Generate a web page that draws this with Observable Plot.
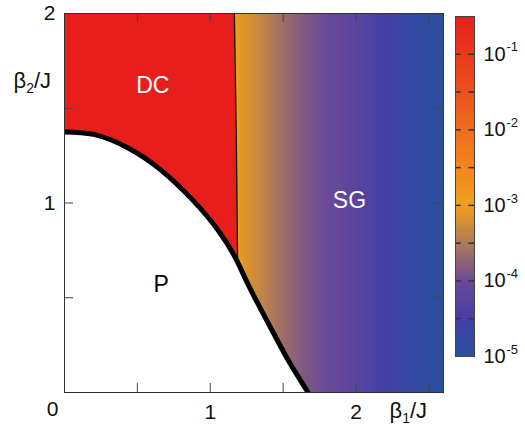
<!DOCTYPE html>
<html><head><meta charset="utf-8">
<script src="https://cdn.jsdelivr.net/npm/d3@7"></script>
<script src="https://cdn.jsdelivr.net/npm/@observablehq/plot@0.6"></script>
<style>
body{margin:0;background:#fff;}
#wrap{position:relative;width:525px;height:439px;font-family:"Liberation Sans",Arial,sans-serif;}
#wrap svg{position:absolute;top:0;}
</style></head><body><div id="wrap"></div>
<script>
// P / ordered boundary (thick line)
const pX = [0, 0.2, 0.43, 0.66, 0.88, 1.05, 1.17, 1.25, 1.35, 1.45, 1.55, 1.671];
const pY = [1.375, 1.362, 1.293, 1.175, 1.015, 0.86, 0.714, 0.585, 0.435, 0.29, 0.15, 0];
// DC / SG boundary (thin line)
const dcX = [1.187, 1.178, 1.165];
const dcY = [0.70, 1.35, 2.0];
// SG order parameter, log10, versus beta1/J
const sgX = [1.0, 1.16, 1.30, 1.45, 1.65, 1.90, 2.15, 2.40, 2.60, 2.80];
const sgLog = [-3.0, -3.0, -3.25, -3.55, -3.85, -4.1, -4.45, -4.8, -4.95, -5.0];
// colour bar
const cbStops = [-5, -4.5, -4, -3.5, -3, -2.5, -2, -1.5, -1, -0.5];
const cbColors = ["#2850a0", "#463fa6", "#6a4a98", "#b07a5a", "#f0a01a", "#f2861e", "#ef6c1e", "#ec521e", "#e93a1e", "#e8201c"];
const cbLabels = [-1, -2, -3, -4, -5];
const cbDashes = [-1, -1.5, -2, -2.5, -3, -3.5, -4, -4.5];
// axes
const xTicks = [0.5, 1, 1.5, 2, 2.5];
const yTicks = [0.5, 1, 1.5];
const xLabels = [1, 2];
const yLabels = [1, 2];
// region labels
const regionNames = ["DC", "SG", "P"];
const regionX = [0.606, 1.955, 0.664];
const regionY = [1.62, 1.013, 0.57];
const regionColor = ["white", "white", "black"];

const colorScale = {type: "linear", domain: cbStops, range: cbColors, interpolate: "rgb"};
const sgGrid = sgX.flatMap((x, i) => [{x, y: -0.5, v: sgLog[i]}, {x, y: 2.5, v: sgLog[i]}]);
const pData = pX.map((x, i) => ({x, y: pY[i]}));
const dcData = dcX.map((x, i) => ({x, y: dcY[i]}));
const regions = regionNames.map((n, i) => ({n, x: regionX[i], y: regionY[i], c: regionColor[i]}));

const font = "Liberation Sans, Arial, sans-serif";
const tickLen = 9;
const fw = 525 - 64 - 82, fh = 439 - 13 - 47;

const main = Plot.plot({
  width: 525, height: 439,
  marginLeft: 64, marginRight: 82, marginTop: 13, marginBottom: 47,
  style: {fontFamily: font, background: "transparent", overflow: "visible"},
  x: {domain: [0, 2.6], axis: null},
  y: {domain: [0, 2], axis: null},
  color: colorScale,
  marks: [
    Plot.raster(sgGrid, {x: "x", y: "y", fill: "v", interpolate: "barycentric", x1: 0, x2: 2.6, y1: 0, y2: 2}),
    Plot.areaX(dcData, {y: "y", x1: 0, x2: "x", fill: "#e81e1c", curve: "catmull-rom"}),
    Plot.areaY(pData, {x: "x", y1: 0, y2: "y", fill: "white", curve: "natural"}),
    Plot.line(dcData, {x: "x", y: "y", stroke: "#111", strokeWidth: 1.4, curve: "catmull-rom"}),
    Plot.line(pData, {x: "x", y: "y", stroke: "black", strokeWidth: 5, curve: "natural", clip: true}),
    Plot.tickX(xTicks, {x: d => d, stroke: "#444", insetTop: fh - tickLen}),
    Plot.tickX(xTicks, {x: d => d, stroke: "#444", insetBottom: fh - tickLen}),
    Plot.tickY(yTicks, {y: d => d, stroke: "#444", insetRight: fw - tickLen}),
    Plot.tickY(yTicks, {y: d => d, stroke: "#444", insetLeft: fw - tickLen}),
    Plot.frame({stroke: "#333", strokeWidth: 1}),
    Plot.text(xLabels, {x: d => d, y: 0, dy: 20, text: d => String(d), fontSize: 21, fill: "#111"}),
    Plot.text(yLabels, {x: 0, y: d => d, dx: -9, textAnchor: "end", text: d => String(d), fontSize: 21, fill: "#111"}),
    Plot.text(["0"], {x: 0, y: 0, dx: -6, dy: 17, textAnchor: "end", fontSize: 21, fill: "#111"}),
    Plot.text(regions, {x: "x", y: "y", text: "n", fill: "c", fontSize: 23}),
    Plot.text(["β"], {frameAnchor: "top-left", dx: -51, dy: 59, textAnchor: "start", fontSize: 22, fill: "#111", className: "ylab"}),
    Plot.text(["β"], {frameAnchor: "bottom-right", dx: -54, dy: 25, textAnchor: "start", fontSize: 22, fill: "#111", className: "xlab"})
  ]
});

function sub(sel, s) {
  const t = d3.select(main).select(sel + " text");
  t.text("β");
  t.append("tspan").attr("font-size", 14).attr("dy", 5).text(s);
  t.append("tspan").attr("dy", -5).text("/J");
}
sub(".ylab", "2");
sub(".xlab", "1");

const cb = Plot.plot({
  width: 80, height: 439,
  marginLeft: 10, marginRight: 51, marginTop: 16, marginBottom: 83,
  style: {fontFamily: font, background: "transparent", overflow: "visible"},
  x: {domain: [0, 1], axis: null},
  y: {domain: [-5, -0.5], axis: null},
  color: colorScale,
  marks: [
    Plot.raster({fill: (x, y) => y, x1: 0, x2: 1, y1: -5, y2: -0.5}),
    Plot.ruleY(cbDashes, {y: d => d, x1: 0, x2: 0.3, stroke: "#333", strokeWidth: 1.5}),
    Plot.ruleY(cbDashes, {y: d => d, x1: 0.7, x2: 1, stroke: "#333", strokeWidth: 1.5}),
    Plot.frame({stroke: "#444", strokeWidth: 1}),
    Plot.text(cbLabels, {x: 1, y: d => d, dx: 9, textAnchor: "start", text: () => "10", fontSize: 20, fill: "#111"}),
    Plot.text(cbLabels, {x: 1, y: d => d, dx: 32, dy: -7, textAnchor: "start", text: d => "-" + (-d), fontSize: 13, fill: "#111"})
  ]
});

const wrap = document.getElementById("wrap");
main.style.left = "0px";
cb.style.left = "445px";
wrap.appendChild(main);
wrap.appendChild(cb);
</script></body></html>
